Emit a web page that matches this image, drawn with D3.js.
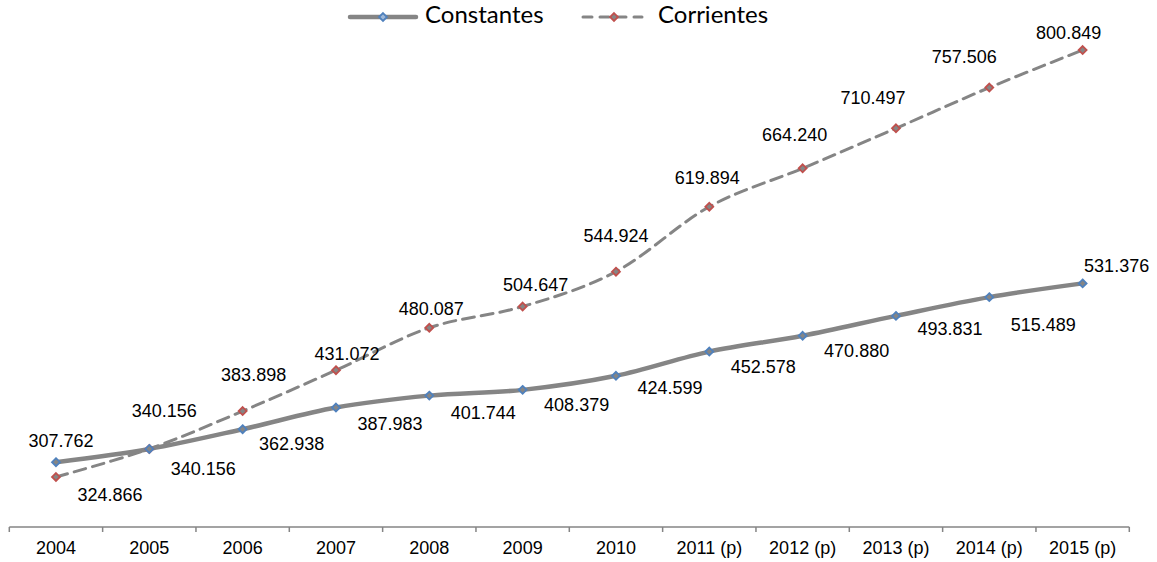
<!DOCTYPE html>
<html>
<head>
<meta charset="utf-8">
<script src="https://cdn.jsdelivr.net/npm/d3@7"></script>
<style>
  html, body { margin: 0; padding: 0; background: #fff; }
  svg { display: block; }
</style>
</head>
<body>
<svg id="chart" width="1157" height="562"></svg>
<script>
// Series values (thousands)
const years = ["2004", "2005", "2006", "2007", "2008", "2009", "2010",
               "2011 (p)", "2012 (p)", "2013 (p)", "2014 (p)", "2015 (p)"];
const constantes = [324.866, 340.156, 362.938, 387.983, 401.744, 408.379,
                    424.599, 452.578, 470.880, 493.831, 515.489, 531.376];
const corrientes = [307.762, 340.156, 383.898, 431.072, 480.087, 504.647,
                    544.924, 619.894, 664.240, 710.497, 757.506, 800.849];
const constantesLabels = ["324.866", "340.156", "362.938", "387.983", "401.744", "408.379",
                          "424.599", "452.578", "470.880", "493.831", "515.489", "531.376"];
const corrientesLabels = ["307.762", "340.156", "383.898", "431.072", "480.087", "504.647",
                          "544.924", "619.894", "664.240", "710.497", "757.506", "800.849"];
const yDomain = [250, 850];

// Hand-placed data-label nudges (pixels from each point)
const constantesNudge = [[54, 34], [54, 21], [49, 16], [54, 18], [54, 19], [54, 16],
                         [54, 13], [54, 17], [54, 16], [54, 14], [54, 29], [34, -16]];
const corrientesNudge = [[5, -35], [15, -37], [11, -35], [11, -15], [2, -18], [13, -20],
                         [0, -34], [-2, -27], [-8, -32], [-23, -29], [-25, -29], [-14, -16]];

const GRAY = "#858585";
const BLUE = "#4F81BD";
const RED = "#C0504D";
const LABEL_FONT = "'Liberation Sans', Arial, sans-serif";

const svg = d3.select("#chart");

const x = d3.scaleBand().domain(years).range([9.3, 1129.3]).paddingInner(0).paddingOuter(0);
const y = d3.scaleLinear().domain(yDomain).range([527, 7.5]);
const cx = d => x(d) + x.bandwidth() / 2;

// Category axis with ticks between categories
const axisG = svg.append("g").attr("transform", "translate(0,527)");
axisG.append("line")
  .attr("x1", x.range()[0]).attr("x2", x.range()[1])
  .attr("y1", 0).attr("y2", 0)
  .attr("stroke", GRAY).attr("stroke-width", 1.5);
const bounds = years.map(d => x(d)).concat([x.range()[1]]);
axisG.selectAll("line.tick").data(bounds).enter().append("line")
  .attr("class", "tick")
  .attr("x1", d => d).attr("x2", d => d)
  .attr("y1", 0).attr("y2", 5)
  .attr("stroke", GRAY).attr("stroke-width", 1.5);
axisG.selectAll("text").data(years).enter().append("text")
  .attr("x", d => cx(d)).attr("y", 22)
  .attr("text-anchor", "middle")
  .attr("dominant-baseline", "middle")
  .style("font-family", LABEL_FONT)
  .style("font-size", "18px")
  .attr("fill", "#000")
  .text(d => d);

const line = d3.line()
  .x((d, i) => cx(years[i]))
  .y(d => y(d))
  .curve(d3.curveCardinal.tension(0));

// Corrientes (dashed)
svg.append("path").datum(corrientes)
  .attr("d", line)
  .attr("fill", "none")
  .attr("stroke", GRAY)
  .attr("stroke-width", 3)
  .attr("stroke-dasharray", "12,7")
  .attr("stroke-linecap", "round");

// Constantes (solid)
svg.append("path").datum(constantes)
  .attr("d", line)
  .attr("fill", "none")
  .attr("stroke", GRAY)
  .attr("stroke-width", 4.5)
  .attr("stroke-linecap", "round");

const diamond = d3.symbol().type(d3.symbolDiamond2).size(40);

function markers(values, color) {
  svg.append("g").selectAll("path").data(values).enter().append("path")
    .attr("d", diamond)
    .attr("transform", (d, i) => `translate(${cx(years[i])},${y(d)})`)
    .attr("fill", GRAY)
    .attr("stroke", color)
    .attr("stroke-width", 1.8);
}
markers(corrientes, RED);
markers(constantes, BLUE);

function labels(values, texts, nudge) {
  svg.append("g").selectAll("text").data(values).enter().append("text")
    .attr("x", (d, i) => cx(years[i]) + nudge[i][0])
    .attr("y", (d, i) => y(d) + nudge[i][1])
    .attr("text-anchor", "middle")
    .attr("dominant-baseline", "middle")
    .style("font-family", LABEL_FONT)
    .style("font-size", "18px")
    .attr("fill", "#000")
    .text((d, i) => texts[i]);
}
labels(corrientes, corrientesLabels, corrientesNudge);
labels(constantes, constantesLabels, constantesNudge);

// Legend
const legend = svg.append("g");
const legendFont = "Lato, 'Open Sans', sans-serif";
legend.append("line")
  .attr("x1", 350).attr("x2", 416).attr("y1", 17).attr("y2", 17)
  .attr("stroke", GRAY).attr("stroke-width", 4.5).attr("stroke-linecap", "round");
legend.append("path").attr("d", diamond)
  .attr("transform", "translate(383,17)")
  .attr("fill", "#9fb8d8").attr("stroke", BLUE).attr("stroke-width", 1.8);
legend.append("text")
  .attr("x", 425).attr("y", 17)
  .attr("dominant-baseline", "middle")
  .style("font-family", legendFont).style("font-size", "24px")
  .attr("fill", "#000")
  .text("Constantes");

legend.append("line")
  .attr("x1", 583).attr("x2", 642).attr("y1", 17).attr("y2", 17)
  .attr("stroke", GRAY).attr("stroke-width", 3)
  .attr("stroke-dasharray", "9,8").attr("stroke-linecap", "round");
legend.append("path").attr("d", diamond)
  .attr("transform", "translate(614,17)")
  .attr("fill", GRAY).attr("stroke", RED).attr("stroke-width", 1.8);
legend.append("text")
  .attr("x", 658).attr("y", 17)
  .attr("dominant-baseline", "middle")
  .style("font-family", legendFont).style("font-size", "24px")
  .attr("fill", "#000")
  .text("Corrientes");
</script>
</body>
</html>
